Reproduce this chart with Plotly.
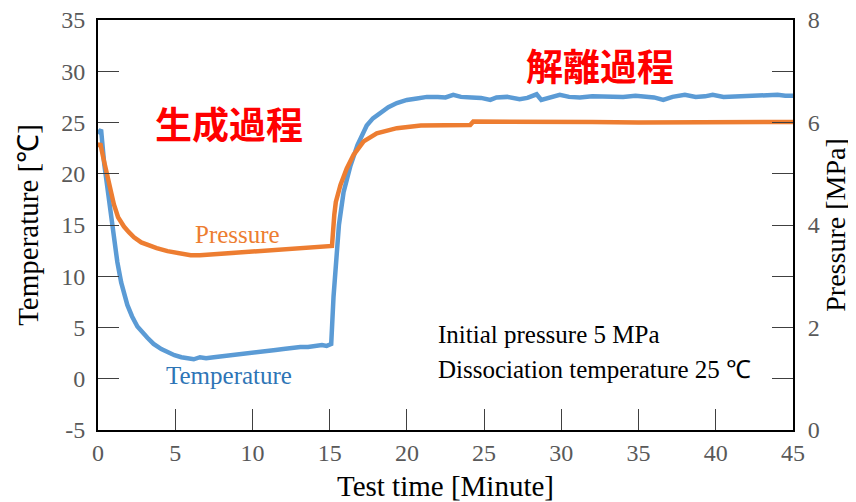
import plotly.graph_objects as go

# ---- data ----
temp_time = [0.0, 0.2, 0.4, 0.6, 0.8, 1.0, 1.25, 1.5, 1.9, 2.2, 2.55, 3.2, 3.6, 4.1, 4.5, 4.95,
             5.4, 5.8, 6.2, 6.6, 7.0, 7.5, 8.0, 8.5, 9.0, 9.5, 10.0, 10.5, 10.95, 11.5, 12.0,
             12.5, 13.1, 13.6, 14.0, 14.5, 14.8, 15.0, 15.1, 15.25, 15.4, 15.6, 15.9, 16.35,
             16.8, 17.4, 17.8, 18.3, 18.8, 19.35, 20.0, 20.65, 21.3, 22.0, 22.5, 23.0, 23.5,
             24.2, 24.8, 25.4, 25.8, 26.5, 27.3, 27.8, 28.4, 28.7, 29.2, 29.9, 30.5, 31.2,
             32.0, 32.7, 33.4, 34.0, 34.8, 35.5, 36.0, 36.6, 37.2, 38.0, 38.7, 39.3, 39.8,
             40.5, 41.2, 42.0, 42.6, 43.3, 44.0, 44.5, 45.0]
temperature = [23.9, 24.3, 21.0, 18.6, 16.0, 13.6, 11.4, 9.4, 7.2, 6.1, 5.1, 4.0, 3.4, 2.9, 2.6, 2.3,
               2.1, 2.0, 1.9, 2.1, 2.0, 2.1, 2.2, 2.3, 2.3, 2.5, 2.6, 2.7, 2.8, 2.8, 2.9,
               3.0, 3.1, 3.1, 3.2, 3.3, 3.2, 3.3, 3.4, 8.0, 11.5, 15.0, 18.2, 20.8,
               22.8, 24.7, 25.4, 26.0, 26.5, 26.9, 27.2, 27.35, 27.5, 27.5, 27.45, 27.7, 27.5,
               27.45, 27.4, 27.2, 27.45, 27.5, 27.26, 27.4, 27.75, 27.2, 27.45, 27.7, 27.5, 27.45,
               27.55, 27.5, 27.55, 27.5, 27.6, 27.45, 27.45, 27.2, 27.5, 27.7, 27.5, 27.55, 27.7,
               27.5, 27.55, 27.6, 27.55, 27.65, 27.7, 27.6, 27.6]

pres_time = [0.0, 0.15, 0.35, 0.6, 0.8, 1.03, 1.3, 1.68, 2.0, 2.33, 2.8, 3.2, 3.8, 4.5, 5.2, 6.0,
             6.6, 7.5, 8.5, 9.5, 10.5, 11.5, 12.5, 13.5, 14.4, 15.15, 15.3, 15.4, 15.7, 16.1,
             16.55, 17.2, 18.05, 19.35, 20.9, 22.2, 24.1, 24.3, 26.0, 27.8, 30.0, 32.0, 35.0,
             40.0, 45.0]
pressure = [5.52, 5.59, 5.3, 4.98, 4.65, 4.4, 4.15, 3.97, 3.86, 3.76, 3.66, 3.61, 3.55, 3.49, 3.45, 3.41,
            3.41, 3.43, 3.45, 3.47, 3.50, 3.52, 3.54, 3.56, 3.58, 3.59, 4.2, 4.45, 4.78, 5.1,
            5.37, 5.63, 5.79, 5.89, 5.94, 5.95, 5.95, 6.02, 6.02, 6.03, 6.02, 6.01, 6.0,
            6.0, 6.01]

x_ticks = [0, 5, 10, 15, 20, 25, 30, 35, 40, 45]
y_ticks = [-5, 0, 5, 10, 15, 20, 25, 30, 35]
y_tick_labels = ["-5", "0", "5", "10", "15", "20", "25", "30", "35"]
y2_ticks = [0, 2, 4, 6, 8]

BLUE = "#5B9BD5"
ORANGE = "#ED7D31"
SERIF = "Liberation Serif"
CJK = "Noto Sans CJK JP"
TICKCOL = "#595959"

fig = go.Figure()
fig.add_trace(go.Scatter(x=temp_time, y=temperature, mode="lines", name="Temperature",
                         line=dict(color=BLUE, width=4.5), yaxis="y"))
fig.add_trace(go.Scatter(x=pres_time, y=pressure, mode="lines", name="Pressure",
                         line=dict(color=ORANGE, width=4.5), yaxis="y2"))

# The page body adds an 8px margin, so the figure is 8px smaller on each axis.
fig.update_layout(
    width=848, height=494,
    margin=dict(l=90, r=63, t=12, b=72),
    paper_bgcolor="white", plot_bgcolor="white",
    showlegend=False,
    font=dict(family=SERIF, size=24, color=TICKCOL),
    xaxis=dict(range=[0, 45], tickvals=x_ticks, ticks="inside", ticklen=21, tickwidth=1,
               tickcolor="#404040", showline=True, linecolor="black", linewidth=2,
               mirror=True, showgrid=False, zeroline=False,
               tickfont=dict(family=SERIF, size=24, color=TICKCOL),
               ticklabeloverflow="allow",
               title=dict(text="Test time [Minute]", font=dict(family=SERIF, size=29, color="black"),
                          standoff=14),
               automargin=False),
    yaxis=dict(range=[-5, 35], tickvals=y_ticks, ticktext=y_tick_labels, ticks="inside",
               ticklen=21, tickwidth=1,
               tickcolor="#404040", showline=True, linecolor="black", linewidth=2,
               mirror="ticks", showgrid=False, zeroline=False,
               tickfont=dict(family=SERIF, size=24, color=TICKCOL),
               ticklabelstandoff=6, ticklabeloverflow="allow",
               title=dict(text="Temperature [℃]", font=dict(family=SERIF, size=29, color="black"),
                          standoff=14),
               automargin=False),
    yaxis2=dict(range=[0, 8], tickvals=y2_ticks, overlaying="y", side="right",
                ticks="", showline=True, linecolor="black", linewidth=2,
                showgrid=False, zeroline=False,
                tickfont=dict(family=SERIF, size=24, color=TICKCOL),
                ticklabelstandoff=8, ticklabeloverflow="allow",
                title=dict(text="Pressure [MPa]", font=dict(family=SERIF, size=28, color="black"),
                           standoff=4),
                automargin=False),
)

anns = [
    dict(x=8.5, y=25.0, xref="x", yref="y", text="<b>生成過程</b>",
         font=dict(family=CJK, size=37, color="#FF0000"), showarrow=False),
    dict(x=32.5, y=30.6, xref="x", yref="y", text="<b>解離過程</b>",
         font=dict(family=CJK, size=37, color="#FF0000"), showarrow=False),
    dict(x=9.0, y=14.1, xref="x", yref="y", text="Pressure",
         font=dict(family=SERIF, size=25, color=ORANGE), showarrow=False),
    dict(x=8.5, y=0.3, xref="x", yref="y", text="Temperature",
         font=dict(family=SERIF, size=25, color="#2E75B6"), showarrow=False),
    dict(x=21.9, y=4.3, xref="x", yref="y", text="Initial pressure 5 MPa", xanchor="left",
         font=dict(family=SERIF, size=25, color="black"), showarrow=False),
    dict(x=21.9, y=0.95, xref="x", yref="y", text="Dissociation temperature 25 ℃", xanchor="left",
         font=dict(family=SERIF, size=25, color="black"), showarrow=False),
]
fig.update_layout(annotations=anns)

fig.write_html("out.html")
